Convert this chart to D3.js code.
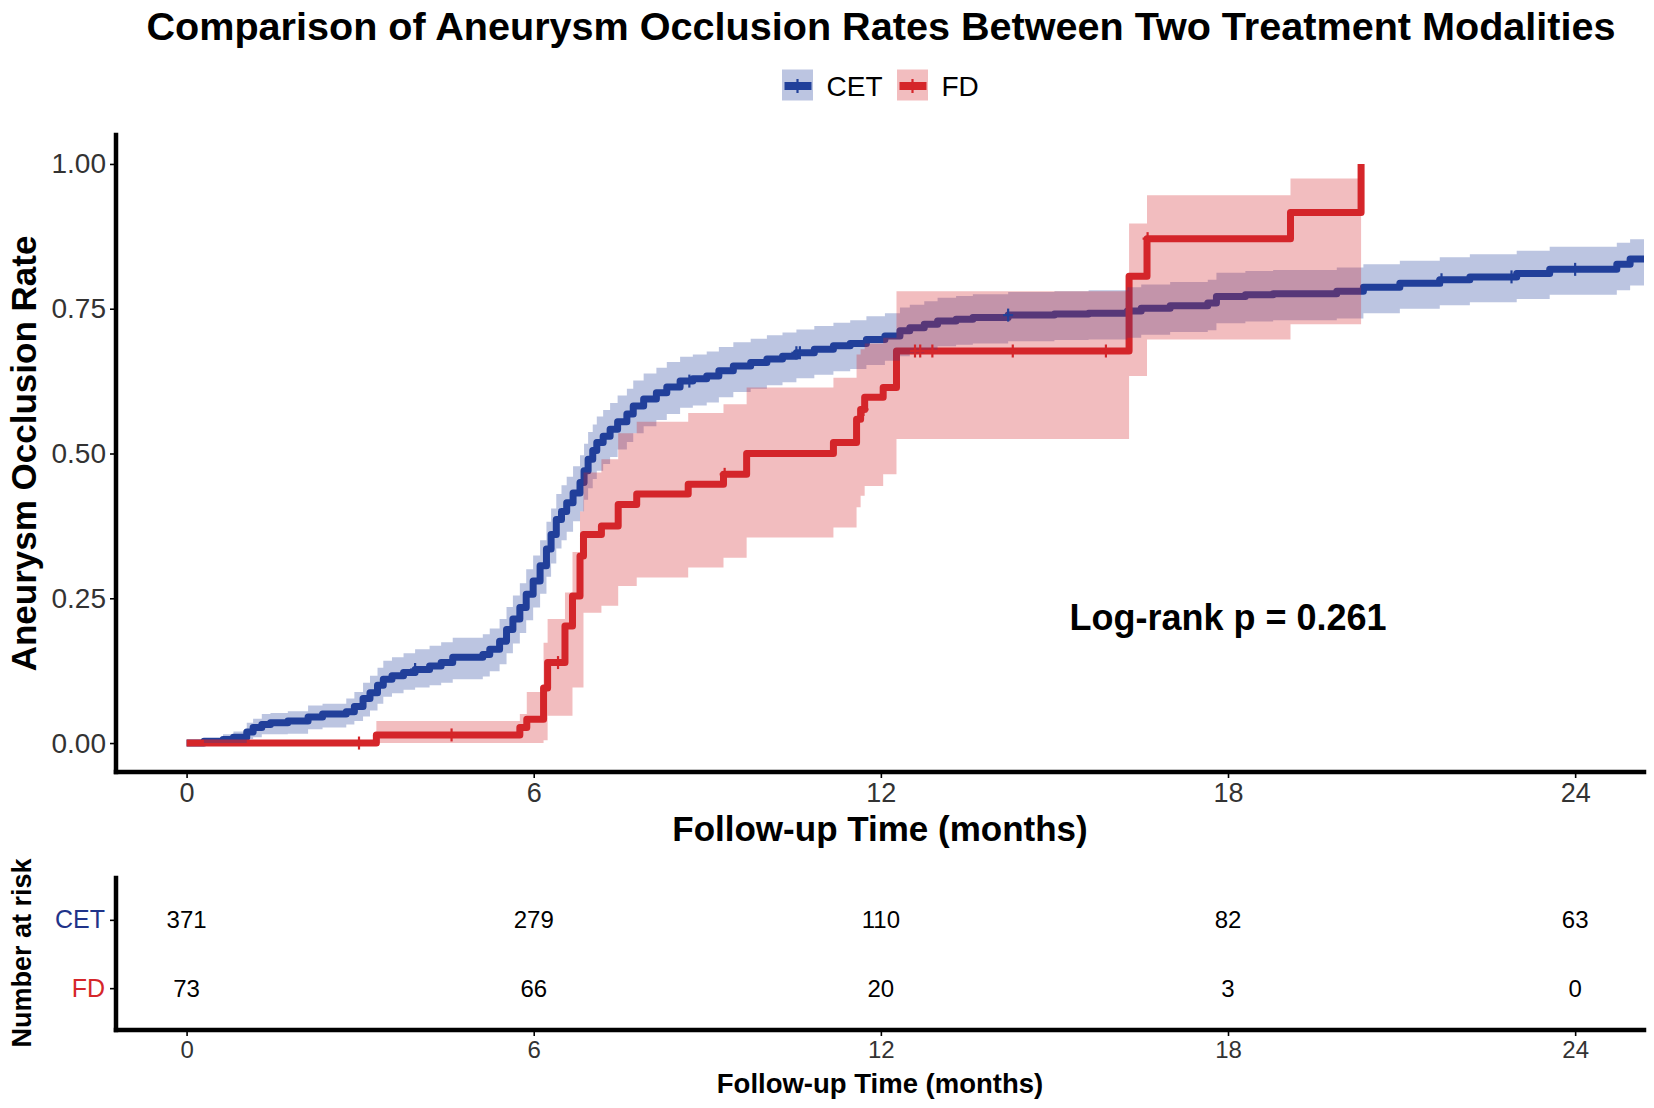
<!DOCTYPE html>
<html><head><meta charset="utf-8">
<script src="https://cdn.jsdelivr.net/npm/d3@7"></script>
<style>
body{margin:0;background:#fff}
svg{display:block}
text{font-family:"Liberation Sans",Arial,Helvetica,sans-serif}
</style>
</head><body>
<svg id="c" width="1654" height="1108"></svg>
<script>
// ---------------- DATA ----------------
const groups = ["CET", "FD"];
const groupColors = ["#21409A", "#D5262A"];

const cetTime  = [0.00,0.30,0.63,0.81,1.04,1.15,1.30,1.45,1.75,2.10,2.35,2.76,2.90,3.05,3.17,3.30,3.40,3.55,3.75,3.95,4.20,4.40,4.60,5.12,5.24,5.41,5.53,5.64,5.76,5.87,5.99,6.11,6.22,6.30,6.39,6.48,6.57,6.68,6.80,6.87,6.94,7.02,7.09,7.20,7.32,7.45,7.61,7.72,7.90,8.12,8.30,8.53,8.75,8.99,9.20,9.45,9.75,10.03,10.30,10.54,10.85,11.18,11.47,11.75,12.07,12.33,12.50,12.75,12.98,13.30,13.59,14.20,15.00,15.59,16.26,16.50,17.00,17.65,17.80,18.30,18.78,19.88,20.34,20.97,21.66,22.18,22.99,23.56,24.72,24.95,25.40];
const cetEst   = [0,0.003,0.006,0.010,0.019,0.027,0.032,0.035,0.038,0.045,0.050,0.054,0.063,0.077,0.087,0.100,0.110,0.116,0.122,0.127,0.133,0.139,0.148,0.153,0.162,0.176,0.196,0.214,0.234,0.257,0.280,0.306,0.335,0.360,0.386,0.400,0.415,0.432,0.450,0.470,0.490,0.505,0.519,0.530,0.542,0.555,0.568,0.582,0.594,0.605,0.615,0.625,0.629,0.634,0.643,0.651,0.657,0.663,0.668,0.674,0.680,0.686,0.690,0.697,0.703,0.712,0.717,0.723,0.729,0.732,0.735,0.739,0.741,0.742,0.746,0.751,0.755,0.760,0.771,0.774,0.776,0.780,0.787,0.794,0.800,0.805,0.811,0.818,0.827,0.836,0.836];
const cetLower = [0,0,0,0,0.007,0.010,0.015,0.015,0.016,0.024,0.027,0.032,0.038,0.046,0.056,0.068,0.080,0.086,0.092,0.096,0.100,0.104,0.110,0.115,0.124,0.136,0.155,0.172,0.190,0.212,0.234,0.258,0.287,0.310,0.336,0.350,0.365,0.383,0.400,0.420,0.440,0.456,0.470,0.482,0.494,0.507,0.520,0.535,0.547,0.558,0.568,0.579,0.583,0.588,0.597,0.606,0.612,0.618,0.623,0.630,0.636,0.642,0.646,0.653,0.660,0.668,0.673,0.679,0.685,0.688,0.690,0.694,0.696,0.697,0.700,0.705,0.710,0.713,0.725,0.728,0.730,0.733,0.742,0.750,0.756,0.761,0.767,0.774,0.782,0.790,0.790];
const cetUpper = [0,0.008,0.015,0.020,0.035,0.042,0.050,0.052,0.055,0.065,0.068,0.077,0.088,0.104,0.116,0.130,0.142,0.148,0.155,0.162,0.168,0.174,0.182,0.188,0.198,0.214,0.235,0.255,0.276,0.300,0.324,0.350,0.382,0.405,0.430,0.445,0.460,0.478,0.497,0.517,0.537,0.550,0.564,0.575,0.587,0.600,0.612,0.626,0.638,0.648,0.658,0.667,0.671,0.676,0.684,0.692,0.698,0.704,0.709,0.714,0.720,0.726,0.730,0.737,0.742,0.752,0.757,0.763,0.769,0.772,0.775,0.779,0.780,0.782,0.787,0.792,0.796,0.800,0.812,0.815,0.817,0.821,0.827,0.833,0.839,0.844,0.850,0.857,0.864,0.870,0.870];

const fdTime  = [0,3.28,5.76,5.88,6.17,6.24,6.54,6.67,6.80,6.86,7.17,7.46,7.78,8.67,9.28,9.68,11.18,11.58,11.65,11.72,12.04,12.27,16.29,16.60,19.08,20.30];
const fdEst   = [0,0.014,0.027,0.041,0.095,0.139,0.202,0.254,0.323,0.360,0.375,0.412,0.430,0.447,0.464,0.500,0.519,0.559,0.576,0.597,0.614,0.677,0.806,0.871,0.916,1.000];
const fdLower = [0,0,0,0,0.005,0.047,0.047,0.096,0.096,0.225,0.237,0.271,0.286,0.303,0.320,0.355,0.372,0.407,0.427,0.444,0.464,0.525,0.634,0.697,0.723,0.723];
const fdUpper = [0,0.038,0.050,0.088,0.173,0.214,0.260,0.330,0.400,0.467,0.490,0.535,0.555,0.570,0.585,0.614,0.631,0.671,0.680,0.690,0.700,0.780,0.897,0.946,0.975,0.975];

const cetCensor = [3.95, 8.69, 10.54, 10.60, 14.20, 21.69, 22.90, 24.00];
const fdCensor  = [2.98, 4.58, 6.42, 9.30, 11.70, 12.59, 12.68, 12.89, 14.28, 15.89, 16.61];

const xTicks = [0, 6, 12, 18, 24];
const yTicks = [0, 0.25, 0.50, 0.75, 1.00];
const riskTimes = [0, 6, 12, 18, 24];
const riskCET = [371, 279, 110, 82, 63];
const riskFD  = [73, 66, 20, 3, 0];

const titleText = "Comparison of Aneurysm Occlusion Rates Between Two Treatment Modalities";
const pValueText = "Log-rank p = 0.261";

// ---------------- DRAW ----------------
const svg = d3.select("#c");
const x = d3.scaleLinear().domain([-1.22, 25.19]).range([116, 1644]);
const y = d3.scaleLinear().domain([-0.05, 1.05]).range([772, 135]);

const series = [
  {name: groups[0], color: groupColors[0], pts: cetTime.map((t,i)=>({t, est:cetEst[i], lo:cetLower[i], hi:cetUpper[i]})), censor: cetCensor},
  {name: groups[1], color: groupColors[1], pts: fdTime.map((t,i)=>({t, est:fdEst[i], lo:fdLower[i], hi:fdUpper[i]})), censor: fdCensor}
];

svg.append("defs").append("clipPath").attr("id","panel")
  .append("rect").attr("x",116).attr("y",135).attr("width",1528).attr("height",637);

const g = svg.append("g").attr("clip-path","url(#panel)");

const line = d3.line().x(d=>x(d.t)).y(d=>y(d.est)).curve(d3.curveStepAfter);
const area = d3.area().x(d=>x(d.t)).y0(d=>y(d.lo)).y1(d=>y(d.hi)).curve(d3.curveStepAfter);

series.forEach(s=>{
  g.append("path").datum(s.pts).attr("d",line)
    .attr("fill","none").attr("stroke",s.color).attr("stroke-width",7)
    .attr("stroke-linejoin","round");
});
series.forEach(s=>{
  g.append("path").datum(s.pts).attr("d",area)
    .attr("fill",s.color).attr("fill-opacity",0.3).attr("stroke","none");
});
function valueAt(pts,t){ let v=pts[0].est; for(const p of pts){ if(p.t<=t) v=p.est; } return v; }
series.forEach(s=>{
  s.censor.forEach(t=>{
    const cx=x(t), cy=y(valueAt(s.pts,t));
    g.append("line").attr("x1",cx).attr("x2",cx).attr("y1",cy-6.5).attr("y2",cy+6.5)
      .attr("stroke",s.color).attr("stroke-width",2.2);
    g.append("line").attr("x1",cx-5).attr("x2",cx+5).attr("y1",cy).attr("y2",cy)
      .attr("stroke",s.color).attr("stroke-width",2.2);
  });
});

// axes main
function styleAxis(sel, fs){
  sel.select(".domain").attr("stroke","#000").attr("stroke-width",4.5).attr("stroke-linecap","square");
  sel.selectAll(".tick line").attr("stroke","#000").attr("stroke-width",1.6);
  sel.selectAll(".tick text").attr("fill","#333").style("font-size",fs+"px")
     .style("font-family",'"Liberation Sans",Arial,sans-serif');
}
const yAxis = svg.append("g").attr("transform","translate(116,0)")
  .call(d3.axisLeft(y).tickValues(yTicks).tickFormat(d3.format(".2f")).tickSize(6).tickSizeOuter(0).tickPadding(4));
styleAxis(yAxis, 28);
const xAxis = svg.append("g").attr("transform","translate(0,772)")
  .call(d3.axisBottom(x).tickValues(xTicks).tickFormat(d3.format("d")).tickSize(6).tickSizeOuter(0).tickPadding(5));
styleAxis(xAxis, 27);

// titles
svg.append("text").attr("x",881).attr("y",40).attr("text-anchor","middle")
  .style("font-size","39.6px").style("font-weight","bold").text(titleText);
svg.append("text").attr("x",880).attr("y",841).attr("text-anchor","middle")
  .style("font-size","35px").style("font-weight","bold").text("Follow-up Time (months)");
svg.append("text").attr("transform","translate(36,453.5) rotate(-90)").attr("text-anchor","middle")
  .style("font-size","35px").style("font-weight","bold").text("Aneurysm Occlusion Rate");
svg.append("text").attr("x",x(18)).attr("y",630).attr("text-anchor","middle")
  .style("font-size","36px").style("font-weight","bold").text(pValueText);

// legend
const legX = [782, 897];
groups.forEach((name,i)=>{
  const lg = svg.append("g");
  lg.append("rect").attr("x",legX[i]).attr("y",69.5).attr("width",31).attr("height",31)
    .attr("fill",groupColors[i]).attr("fill-opacity",0.3);
  lg.append("line").attr("x1",legX[i]+2.5).attr("x2",legX[i]+29.5).attr("y1",86).attr("y2",86)
    .attr("stroke",groupColors[i]).attr("stroke-width",8);
  lg.append("line").attr("x1",legX[i]+15.5).attr("x2",legX[i]+15.5).attr("y1",79).attr("y2",93)
    .attr("stroke",groupColors[i]).attr("stroke-width",2.2);
  lg.append("text").attr("x",legX[i]+44.5).attr("y",96).style("font-size","28px").attr("fill","#000").text(name);
});

// risk table
const ry = d3.scalePoint().domain(groups).range([878,1030]).padding(0.6125);
const rYAxis = svg.append("g").attr("transform","translate(116,0)")
  .call(d3.axisLeft(ry).tickSize(6).tickSizeOuter(0).tickPadding(5));
styleAxis(rYAxis, 25);
rYAxis.selectAll(".tick text").attr("fill",(d,i)=>i===0 ? "#1F3389" : groupColors[i]);
const rXAxis = svg.append("g").attr("transform","translate(0,1030)")
  .call(d3.axisBottom(x).tickValues(xTicks).tickFormat(d3.format("d")).tickSize(6).tickSizeOuter(0).tickPadding(5));
styleAxis(rXAxis, 24);
rYAxis.select(".domain").attr("d","M0,878V1030");
rXAxis.select(".domain").attr("d","M116,0H1644");
yAxis.select(".domain").attr("d","M0,135V772");
xAxis.select(".domain").attr("d","M116,0H1644");

[riskCET, riskFD].forEach((vals,gi)=>{
  vals.forEach((v,i)=>{
    svg.append("text").attr("x",x(riskTimes[i])).attr("y",ry(groups[gi])).attr("dy","0.35em")
      .attr("text-anchor","middle").style("font-size","24px").attr("fill","#000").text(v);
  });
});
svg.append("text").attr("transform","translate(31,953) rotate(-90)").attr("text-anchor","middle")
  .style("font-size","27px").style("font-weight","bold").text("Number at risk");
svg.append("text").attr("x",880).attr("y",1093).attr("text-anchor","middle")
  .style("font-size","27.5px").style("font-weight","bold").text("Follow-up Time (months)");
</script>
</body></html>
